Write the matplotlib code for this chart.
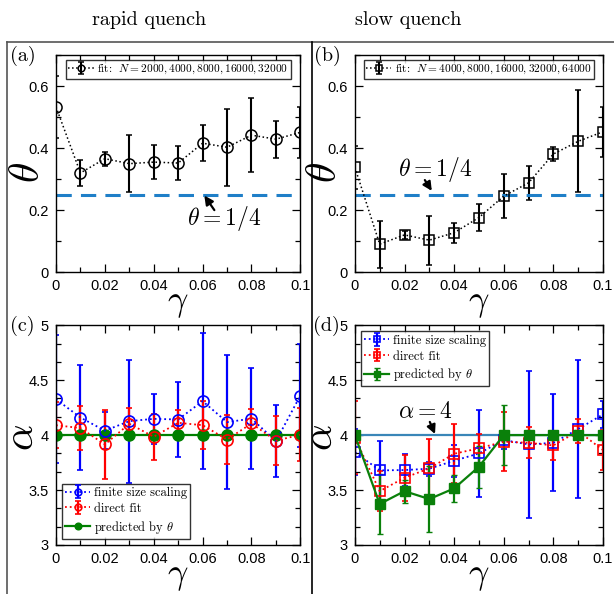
import numpy as np
import matplotlib
matplotlib.use("Agg")
import matplotlib.pyplot as plt
from matplotlib.lines import Line2D
from matplotlib.ticker import MultipleLocator

plt.rcParams['mathtext.fontset'] = 'cm'
plt.rcParams['font.family'] = ['Liberation Sans', 'DejaVu Sans']
plt.rcParams['xtick.direction'] = 'in'
plt.rcParams['ytick.direction'] = 'in'
plt.rcParams['xtick.top'] = True
plt.rcParams['ytick.right'] = True

# ---- data ----
gamma = [0, 0.01, 0.02, 0.03, 0.04, 0.05, 0.06, 0.07, 0.08, 0.09, 0.1]

# (a) rapid quench theta
theta_rapid = [0.533, 0.320, 0.366, 0.350, 0.355, 0.352, 0.416, 0.403, 0.442, 0.429, 0.451]
theta_rapid_err = [0.099, 0.042, 0.023, 0.092, 0.056, 0.056, 0.058, 0.125, 0.120, 0.060, 0.082]

# (b) slow quench theta
theta_slow = [0.338, 0.090, 0.120, 0.103, 0.127, 0.176, 0.245, 0.288, 0.381, 0.422, 0.453]
theta_slow_err = [0.070, 0.076, 0.013, 0.079, 0.032, 0.045, 0.070, 0.056, 0.022, 0.165, 0.080]

# (c) rapid quench alpha
alpha_fss_rapid = [4.327, 4.160, 4.040, 4.127, 4.148, 4.142, 4.309, 4.118, 4.150, 3.945, 4.360]
alpha_fss_rapid_err = [0.58, 0.48, 0.17, 0.56, 0.23, 0.34, 0.62, 0.61, 0.46, 0.33, 0.47]
alpha_fit_rapid = [4.090, 4.064, 3.915, 4.103, 3.985, 4.112, 4.090, 3.960, 4.106, 3.950, 4.003]
alpha_fit_rapid_err = [0.21, 0.20, 0.31, 0.14, 0.21, 0.12, 0.22, 0.22, 0.13, 0.22, 0.24]
alpha_pred_rapid = [4.0] * 11

# (d) slow quench alpha
alpha_fss_slow = [3.845, 3.679, 3.682, 3.694, 3.767, 3.833, 3.955, 3.915, 3.930, 4.055, 4.188]
alpha_fss_slow_err = [0.21, 0.27, 0.145, 0.065, 0.145, 0.40, 0.08, 0.67, 0.44, 0.63, 0.12]
alpha_fit_slow = [3.976, 3.490, 3.612, 3.697, 3.830, 3.880, 3.940, 3.930, 3.906, 4.036, 3.864]
alpha_fit_slow_err = [0.33, 0.18, 0.21, 0.27, 0.27, 0.13, 0.27, 0.14, 0.13, 0.11, 0.18]
alpha_pred_slow = [4.0, 3.373, 3.490, 3.418, 3.515, 3.712, 4.0, 4.0, 4.0, 4.0, 4.0]
alpha_pred_slow_err = [0, 0.27, 0.106, 0.30, 0.125, 0.19, 0.27, 0, 0, 0, 0]

xticks = [0, 0.02, 0.04, 0.06, 0.08, 0.1]
xticklabels = ['0', '0.02', '0.04', '0.06', '0.08', '0.1']

fig = plt.figure(figsize=(6.14, 5.94), dpi=100)

axa = fig.add_axes([0.0912, 0.542, 0.398, 0.365])
axb = fig.add_axes([0.578, 0.542, 0.404, 0.365])
axc = fig.add_axes([0.0912, 0.0825, 0.398, 0.370])
axd = fig.add_axes([0.578, 0.0825, 0.404, 0.370])

blue_dash = '#1f7fc8'
serif = 'cmr10'
arrow = dict(arrowstyle='-|>', color='black', lw=1.6, shrinkA=0, shrinkB=0, mutation_scale=13)


def style(ax, ylim, yticks, yticklabels, yminor):
    ax.set_xlim(0, 0.1)
    ax.set_ylim(*ylim)
    ax.set_xticks(xticks)
    ax.set_xticklabels(xticklabels, fontsize=10.5)
    ax.set_yticks(yticks)
    ax.set_yticklabels(yticklabels, fontsize=10.5)
    ax.xaxis.set_minor_locator(MultipleLocator(0.01))
    ax.yaxis.set_minor_locator(MultipleLocator(yminor))
    ax.tick_params(which='major', length=6, width=0.9, pad=5)
    ax.tick_params(which='minor', length=3.5, width=0.9)
    for s in ax.spines.values():
        s.set_linewidth(1.0)
    ax.set_xlabel(r'$\gamma$', fontsize=26, labelpad=-6)


# (a)
axa.errorbar(gamma, theta_rapid, yerr=theta_rapid_err, color='black', ls=':', lw=1.1,
             marker='o', ms=8, mfc='none', mew=1.1, ecolor='black', elinewidth=1.5, capsize=2.5,
             label=r'fit:  $N=2000,4000,8000,16000,32000$')
axa.axhline(0.25, color=blue_dash, ls=(0, (5, 3)), lw=2.2)
axa.text(0.069, 0.174, r'$\theta=1/4$', fontsize=17, ha='center', va='center')
axa.annotate('', xy=(0.0607, 0.247), xytext=(0.0648, 0.2), arrowprops=arrow)
style(axa, (0, 0.7), [0, 0.2, 0.4, 0.6], ['0', '0.2', '0.4', '0.6'], 0.1)
axa.set_ylabel(r'$\theta$', fontsize=30, va='center')
axa.yaxis.set_label_coords(-0.115, 0.46)
axa.legend(loc='upper center', bbox_to_anchor=(0.5, 1.005), frameon=True,
           fancybox=False, edgecolor='black', handlelength=2.2, borderpad=0.25,
           handletextpad=0.3, markerscale=0.6, prop={'family': serif, 'size': 8.2})

# (b)
axb.errorbar(gamma, theta_slow, yerr=theta_slow_err, color='black', ls=':', lw=1.1,
             marker='s', ms=6.5, mfc='none', mew=1.1, ecolor='black', elinewidth=1.5, capsize=2.5,
             label=r'fit:  $N=4000,8000,16000,32000,64000$')
axb.axhline(0.25, color=blue_dash, ls=(0, (5, 3)), lw=2.2)
axb.text(0.0323, 0.332, r'$\theta=1/4$', fontsize=17, ha='center', va='center')
axb.annotate('', xy=(0.031, 0.262), xytext=(0.0282, 0.297), arrowprops=arrow)
style(axb, (0, 0.7), [0, 0.2, 0.4, 0.6], ['0', '0.2', '0.4', '0.6'], 0.1)
axb.set_ylabel(r'$\theta$', fontsize=30, va='center')
axb.yaxis.set_label_coords(-0.12, 0.46)
axb.legend(loc='upper center', bbox_to_anchor=(0.5, 1.005), frameon=True,
           fancybox=False, edgecolor='black', handlelength=2.2, borderpad=0.25,
           handletextpad=0.3, markerscale=0.6, prop={'family': serif, 'size': 8.2})

# (c)
hc1 = axc.errorbar(gamma, alpha_fss_rapid, yerr=alpha_fss_rapid_err, color='#0000ff', ls=':', lw=1.3,
                   marker='o', ms=8, mfc='none', mew=1.2, elinewidth=1.6, capsize=2.5,
                   label='finite size scaling')
hc2 = axc.errorbar(gamma, alpha_fit_rapid, yerr=alpha_fit_rapid_err, color='#ff0000', ls=':', lw=1.3,
                   marker='o', ms=8, mfc='none', mew=1.2, elinewidth=1.6, capsize=2.5,
                   label='direct fit')
hc3, = axc.plot(gamma, alpha_pred_rapid, color='#008000', ls='-', lw=1.6, marker='o', ms=8,
                label=r'predicted by $\theta$')
style(axc, (3, 5), [3, 3.5, 4, 4.5, 5], ['3', '3.5', '4', '4.5', '5'], 0.5 / 3)
axc.set_ylabel(r'$\alpha$', fontsize=30, va='center')
axc.yaxis.set_label_coords(-0.14, 0.49)
axc.legend(handles=[hc1, hc2, hc3], loc='lower left', bbox_to_anchor=(0.0, 0.0), frameon=True,
           fancybox=False, edgecolor='black', handlelength=2.0, borderpad=0.25, handletextpad=0.3,
           labelspacing=0.3, markerscale=0.6, prop={'family': serif, 'size': 9})

# (d)
axd.axhline(4.0, color='#3a86b8', lw=1.6)
axd.errorbar(gamma, alpha_fss_slow, yerr=alpha_fss_slow_err, color='#0000ff', ls=':', lw=1.3,
             marker='s', ms=6.5, mfc='none', mew=1.2, elinewidth=1.6, capsize=2.5,
             label='finite size scaling')
axd.errorbar(gamma, alpha_fit_slow, yerr=alpha_fit_slow_err, color='#ff0000', ls=':', lw=1.3,
             marker='s', ms=6.5, mfc='none', mew=1.2, elinewidth=1.6, capsize=2.5,
             label='direct fit')
axd.errorbar(gamma, alpha_pred_slow, yerr=alpha_pred_slow_err, color='#0a800a', ls='-', lw=1.6,
             marker='s', ms=6.5, elinewidth=1.6, capsize=2.5,
             label=r'predicted by $\theta$')
axd.text(0.0286, 4.21, r'$\alpha=4$', fontsize=17, ha='center', va='center')
axd.annotate('', xy=(0.0323, 4.01), xytext=(0.0302, 4.12), arrowprops=arrow)
style(axd, (3, 5), [3, 3.5, 4, 4.5, 5], ['3', '3.5', '4', '4.5', '5'], 0.5 / 3)
axd.set_ylabel(r'$\alpha$', fontsize=30, va='center')
axd.yaxis.set_label_coords(-0.138, 0.49)
axd.legend(loc='upper left', bbox_to_anchor=(0.0, 1.0), frameon=True, fancybox=False,
           edgecolor='black', handlelength=2.0, borderpad=0.25, handletextpad=0.3,
           labelspacing=0.3, markerscale=0.6, prop={'family': serif, 'size': 9})

# titles and panel labels
fig.text(149 / 614, 1 - 20 / 594, 'rapid quench', family=serif, fontsize=14.5, ha='center', va='center')
fig.text(408 / 614, 1 - 20 / 594, 'slow quench', family=serif, fontsize=14.5, ha='center', va='center')
for lbl, x, y in [('(a)', 10, 46), ('(b)', 314, 46), ('(c)', 10, 316), ('(d)', 313, 316)]:
    fig.text(x / 614, 1 - y / 594, lbl, family=serif, fontsize=14.5, ha='left', va='top')

# frame lines
fig.add_artist(Line2D([7 / 614, 7 / 614], [0, 1 - 42 / 594], transform=fig.transFigure,
                      color='#555555', lw=1.2))
fig.add_artist(Line2D([7 / 614, 1], [1 - 42 / 594, 1 - 42 / 594], transform=fig.transFigure,
                      color='#555555', lw=1.2))
fig.add_artist(Line2D([312 / 614, 312 / 614], [0, 1 - 42 / 594], transform=fig.transFigure,
                      color='black', lw=1.2))

fig.savefig('out.png', dpi=100)
